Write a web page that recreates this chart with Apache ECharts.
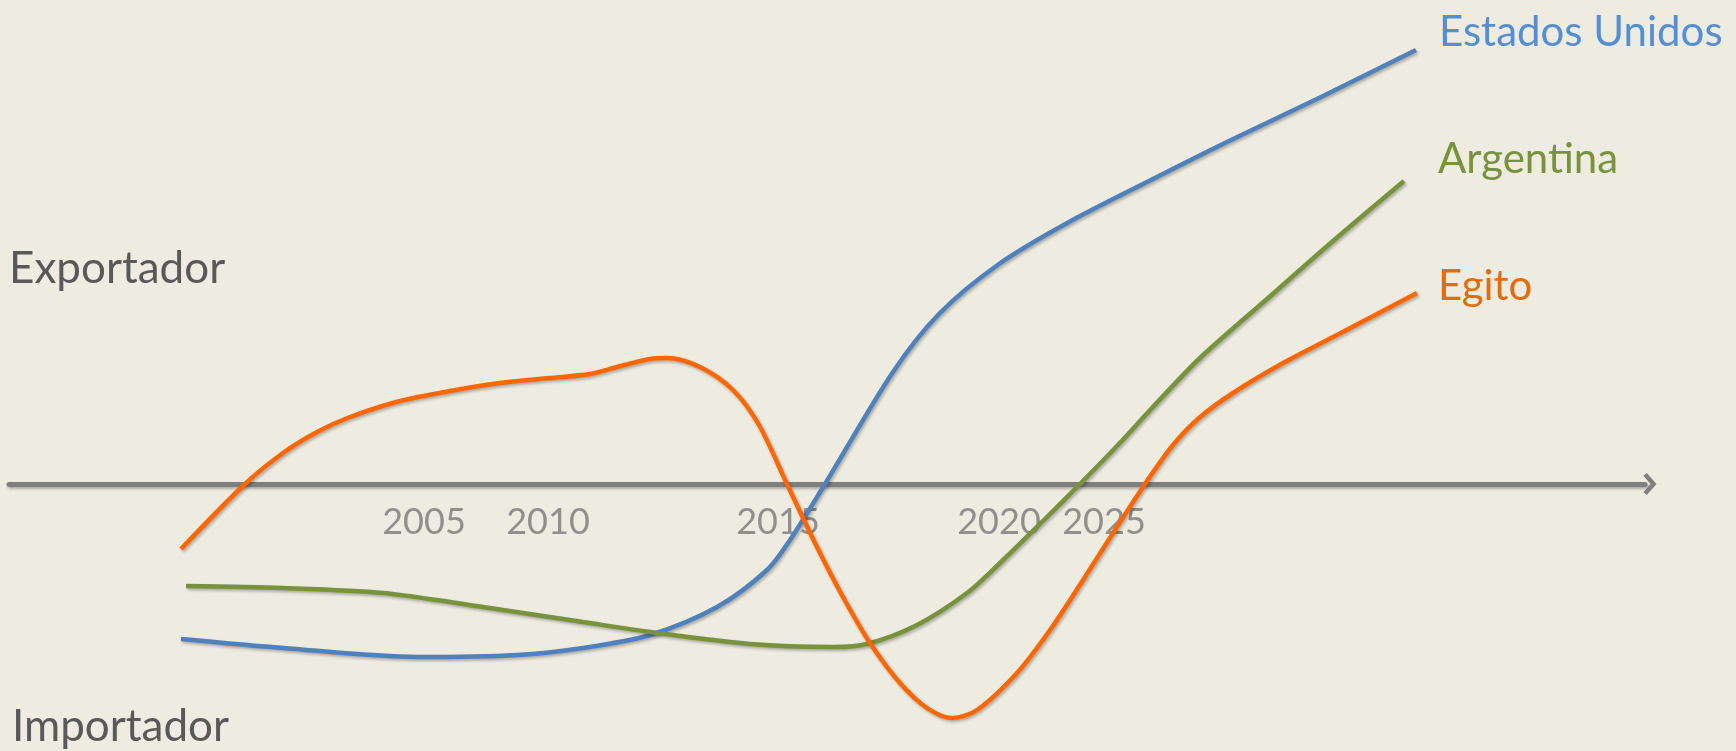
<!DOCTYPE html>
<html>
<head>
<meta charset="utf-8">
<title>Exportador / Importador</title>
<script src="https://cdn.jsdelivr.net/npm/echarts@6/dist/echarts.min.js"></script>
<style>
    html, body { margin: 0; padding: 0; background: #eeece1; }
    #chart { width: 1736px; height: 751px; }
</style>
</head>
<body>
<div id="chart"></div>
<script>
// eixo x: posição na linha do tempo (unidade livre), eixo y: saldo (+ exportador / - importador)
const tickPos = [41.5, 53.9, 76.9, 99.0, 109.5];
const tickLabels = ['2005', '2010', '2015', '2020', '2025'];
const sideLabels = ['Exportador', 'Importador'];
const seriesNames = ['Estados Unidos', 'Argentina', 'Egito'];

const estadosUnidos = [
    [17.2, -15.5], [27.4, -16.4], [40.8, -17.3], [50.8, -17.1], [57.4, -16.4],
    [64.1, -15.1], [70.8, -12.3], [75.8, -8.6], [78.1, -5.6], [81.6, 0], [88.4, 11.2],
    [93.0, 17.0], [99.0, 22.0], [106.0, 26.2], [114.0, 30.3], [122.0, 34.3],
    [131.0, 38.6], [140.7, 43.4]
];
const argentina = [
    [17.7, -10.2], [27.4, -10.4], [37.4, -10.9], [47.4, -12.3], [57.4, -13.8],
    [64.1, -14.8], [74.1, -16.0], [82.4, -16.3], [85.8, -16.0], [90.8, -14.1],
    [95.8, -10.9], [99.1, -7.9], [103.5, -3.6], [107.1, 0], [110.8, 3.8],
    [114.3, 7.6], [119.1, 12.6], [125.8, 18.5], [132.4, 24.3], [139.5, 30.3]
];
const egito = [
    [17.2, -6.5], [23.6, 0], [27.4, 3.1], [30.8, 5.2], [34.1, 6.7], [39.1, 8.3],
    [44.1, 9.3], [49.1, 10.1], [54.1, 10.6], [58.1, 11.0], [60.8, 11.7], [64.1, 12.5],
    [65.8, 12.6], [69.1, 11.7], [72.4, 9.4], [75.0, 5.9], [77.8, 0], [80.6, -5.9],
    [83.4, -11.3], [86.1, -15.9], [89.1, -19.9], [91.8, -22.4], [94.3, -23.4],
    [96.8, -22.6], [100.8, -18.9], [104.1, -14.6], [107.4, -9.6], [110.6, -4.6],
    [113.8, 0.3], [116.4, 3.9], [119.0, 6.6], [122.4, 9.1], [127.4, 12.1],
    [132.4, 14.7], [140.8, 19.1]
];

const FONT = 'Lato, "Open Sans", sans-serif';
const shadow = {
    shadowColor: 'rgba(0,0,0,0.28)',
    shadowBlur: 3,
    shadowOffsetX: 1.5,
    shadowOffsetY: 2
};

const makeLine = (name, data, lineColor, textColor, offset) => ({
    name: name,
    type: 'line',
    z: 3,
    data: data,
    smooth: 0.3,
    showSymbol: false,
    symbol: 'none',
    lineStyle: Object.assign({ color: lineColor, width: 4.5 }, shadow),
    itemStyle: { color: lineColor },
    endLabel: {
        show: true,
        formatter: '{a}',
        color: textColor,
        fontFamily: FONT,
        fontSize: 42,
        distance: 0,
        offset: offset
    },
    animation: false
});

// rótulos dos anos, presos ao eixo (y = 0) nas posições lidas
const yearTicks = {
    name: 'anos',
    type: 'scatter',
    z: 1,
    symbolSize: 0,
    silent: true,
    data: tickPos.map((p, i) => ({ name: tickLabels[i], value: [p, 0] })),
    label: {
        show: true,
        position: 'bottom',
        distance: 20,
        formatter: '{b}',
        color: '#787878',
        fontFamily: FONT,
        fontSize: 36
    },
    animation: false
};

const chart = echarts.init(document.getElementById('chart'));
const option = {
    backgroundColor: '#eeece1',
    animation: false,
    grid: {
        left: 9, right: 91, top: 4, bottom: 7,
        containLabel: false,
        outerBoundsMode: 'none'
    },
    xAxis: {
        type: 'value',
        min: 0,
        max: 163.6,
        splitLine: { show: false },
        axisTick: { show: false },
        axisLabel: { show: false },
        axisLine: {
            onZero: true,
            symbol: ['none', 'path://M0,9 L10,0 L20,9 L17.5,12 L10,5.5 L2.5,12 Z'],
            symbolSize: [22, 22],
            symbolOffset: [0, 5],
            lineStyle: Object.assign({ color: '#7f7f7f', width: 5 }, shadow)
        }
    },
    yAxis: {
        type: 'value',
        min: -26,
        max: 48,
        show: false
    },
    graphic: [
        {
            type: 'text', left: 9, top: 247,
            style: { text: sideLabels[0], font: '44px ' + FONT, fill: '#595959' }
        },
        {
            type: 'text', left: 12, top: 705,
            style: { text: sideLabels[1], font: '44px ' + FONT, fill: '#595959' }
        }
    ],
    series: [
        yearTicks,
        makeLine(seriesNames[0], estadosUnidos, '#4f81bd', '#558ed5', [23, -18]),
        makeLine(seriesNames[1], argentina, '#77933c', '#77933c', [34, -22]),
        makeLine(seriesNames[2], egito, '#ff6600', '#e46c0a', [21, -7])
    ]
};
chart.setOption(option);
</script>
</body>
</html>
